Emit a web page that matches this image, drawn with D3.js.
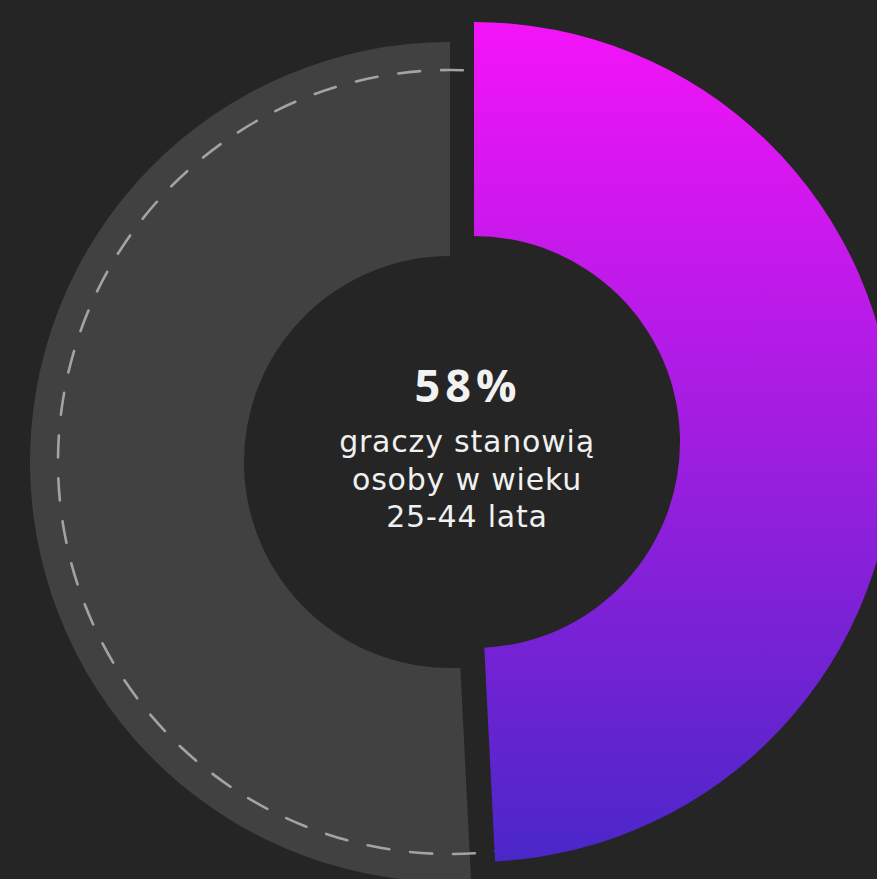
<!DOCTYPE html>
<html>
<head>
<meta charset="utf-8">
<script src="https://cdn.jsdelivr.net/npm/d3@7"></script>
<style>
  html, body { margin: 0; padding: 0; background: #252525; overflow: hidden; }
  svg { display: block; }
</style>
</head>
<body>
<svg id="chart" width="877" height="879"></svg>
<script>
// ---- data ----
const categories = ["25-44 lata", "pozostali"];
const values = [49.2, 50.8];           // share of the ring drawn by each slice
const headline = "58%";
const captionLines = ["graczy stanowią", "osoby w wieku", "25-44 lata"];

// ---- layout ----
const W = 877, H = 879;
const outerR = 420, innerR = 206;
const centers = [[474, 442], [450, 462]];   // each slice is offset ("exploded")
const colorTop = "#f414f8", colorBottom = "#4a27c8";

const svg = d3.select("#chart").attr("width", W).attr("height", H);
svg.append("rect").attr("width", W).attr("height", H).attr("fill", "#252525");

const defs = svg.append("defs");
const grad = defs.append("linearGradient")
  .attr("id", "mainGrad")
  .attr("gradientUnits", "userSpaceOnUse")
  .attr("x1", 0).attr("x2", 0)
  .attr("y1", -outerR).attr("y2", outerR);
grad.append("stop").attr("offset", "0%").attr("stop-color", colorTop);
grad.append("stop").attr("offset", "100%").attr("stop-color", colorBottom);

const pie = d3.pie().sort(null).value(d => d);
const arcs = pie(values);
const arc = d3.arc().innerRadius(innerR).outerRadius(outerR);

// grey slice first
const gGrey = svg.append("g").attr("transform", `translate(${centers[1][0]},${centers[1][1]})`);
gGrey.append("path").attr("d", arc(arcs[1])).attr("fill", "#414141");

// dashed guide circle
gGrey.append("circle")
  .attr("r", 392)
  .attr("fill", "none")
  .attr("stroke", "#a3a3a3")
  .attr("stroke-width", 2.6)
  .attr("stroke-dasharray", "22 21")
  .attr("stroke-dashoffset", 11.5)
  .attr("stroke-linecap", "round");

// highlighted slice
const gMain = svg.append("g").attr("transform", `translate(${centers[0][0]},${centers[0][1]})`);
gMain.append("path").attr("d", arc(arcs[0])).attr("fill", "url(#mainGrad)");

// center text
const tx = 466;
svg.append("text")
  .attr("x", tx + 2).attr("y", 402)
  .attr("text-anchor", "middle")
  .attr("font-family", "'Open Sans', sans-serif")
  .attr("font-weight", 700)
  .attr("font-size", 45)
  .attr("letter-spacing", 5)
  .attr("fill", "#f2f2f2")
  .text(headline);

svg.append("g").selectAll("text")
  .data(captionLines)
  .join("text")
  .attr("x", tx + 1)
  .attr("y", (d, i) => 452 + i * 37.5)
  .attr("text-anchor", "middle")
  .attr("font-family", "'DejaVu Sans', sans-serif")
  .attr("font-weight", 400)
  .attr("font-size", 30)
  .attr("letter-spacing", 0.8)
  .attr("fill", "#f0f0f0")
  .text(d => d);
</script>
</body>
</html>
